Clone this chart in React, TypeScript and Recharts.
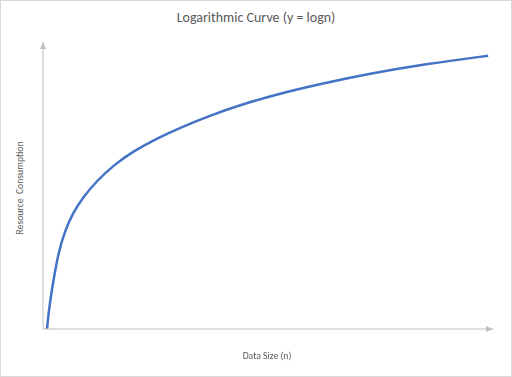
import { LineChart, Line, XAxis, YAxis } from 'recharts'

// values (n = data size, v = resource use)
const sizes = [1, 1.5, 2.6, 3.8, 5.5, 7.5, 10, 13.4, 17.5, 22.5, 28.3, 34.9, 41.6, 49, 58.2, 69.7, 81.4, 95.6, 110.8]
const usage = [0, 0.36, 0.85, 1.32, 1.72, 2.03, 2.3, 2.58, 2.85, 3.1, 3.32, 3.53, 3.72, 3.9, 4.09, 4.28, 4.45, 4.62, 4.76]

const data = sizes.map((n, i) => ({ n, v: usage[i] }))

const font = 'Calibri, Carlito, "Open Sans", sans-serif'
const axisGray = '#bfbfbf'
const textGray = '#595959'

export default function App() {
  return (
    <div
      style={{
        position: 'fixed',
        left: 0,
        top: 0,
        width: 510,
        height: 375,
        border: '1px solid #d9d9d9',
        background: '#fff',
        fontFamily: font,
      }}
    >
      <div
        style={{
          position: 'absolute',
          top: 8,
          left: 0,
          width: 510,
          textAlign: 'center',
          fontSize: 14,
          color: textGray,
        }}
      >
        Logarithmic Curve (y = logn)
      </div>
      <div
        style={{
          position: 'absolute',
          left: 19,
          top: 187,
          transform: 'translate(-50%, -50%) rotate(-90deg)',
          whiteSpace: 'nowrap',
          fontSize: 9.7,
          color: textGray,
        }}
      >
        Resource&nbsp; Consumption
      </div>
      <div
        style={{
          position: 'absolute',
          left: 0,
          top: 349,
          width: 532,
          textAlign: 'center',
          fontSize: 9.7,
          color: textGray,
        }}
      >
        Data Size (n)
      </div>
      <LineChart
        width={510}
        height={375}
        data={data}
        margin={{ top: 41, right: 18, left: 41, bottom: 46 }}
        style={{ position: 'absolute', left: 0, top: 0 }}
      >
        <defs>
          <marker
            id="arrow"
            markerUnits="userSpaceOnUse"
            markerWidth={7}
            markerHeight={6}
            refX={7}
            refY={3}
            orient="auto-start-reverse"
          >
            <path d="M0,0 L7,3 L0,6 z" fill={axisGray} />
          </marker>
        </defs>
        <XAxis
          type="number"
          dataKey="n"
          domain={[0, 112]}
          height={1}
          ticks={[0]}
          tick={false}
          tickLine={false}
          axisLine={{ stroke: axisGray, strokeWidth: 1, markerEnd: 'url(#arrow)' }}
        />
        <YAxis
          type="number"
          domain={[0, 5]}
          width={1}
          ticks={[0]}
          tick={false}
          tickLine={false}
          axisLine={{ stroke: axisGray, strokeWidth: 1, markerStart: 'url(#arrow)' }}
        />
        <Line
          type="basis"
          dataKey="v"
          stroke="#4472c4"
          strokeWidth={2.5}
          dot={false}
          isAnimationActive={false}
        />
      </LineChart>
    </div>
  )
}
